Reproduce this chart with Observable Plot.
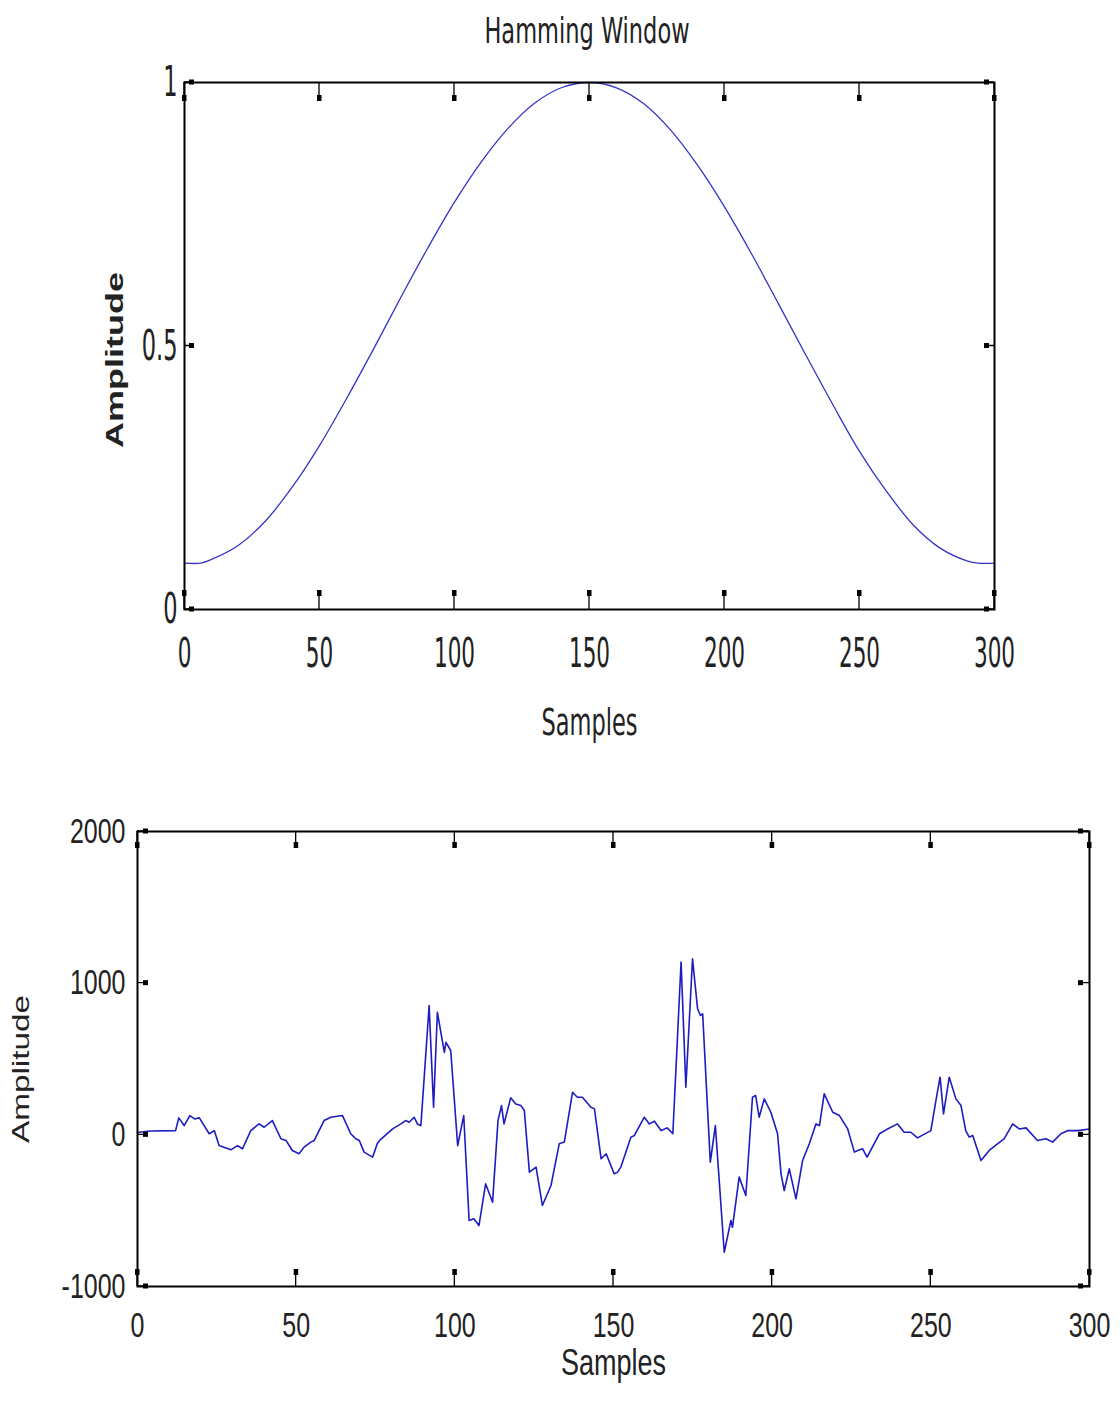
<!DOCTYPE html>
<html>
<head>
<meta charset="utf-8">
<script src="https://cdn.jsdelivr.net/npm/d3@7"></script>
<script src="https://cdn.jsdelivr.net/npm/@observablehq/plot@0.6"></script>
<style>
  html, body { margin: 0; padding: 0; background: #fff; }
  #page { width: 1120px; height: 1402px; position: relative; overflow: hidden; }
  #title { height: 60px; line-height: 62px; text-align: center; width: 1174px;
    font-family: "Liberation Sans Narrow", "DejaVu Sans Condensed", "Liberation Sans", sans-serif;
    font-stretch: condensed; font-size: 25px; color: #222; transform: scaleY(1.45); }
  svg { display: block; }
</style>
</head>
<body>
<div id="page">
  <div id="title">Hamming Window</div>
</div>
<script>
// ---- Data ----
const xTicks = [0, 50, 100, 150, 200, 250, 300];
const topYTicks = [0, 0.5, 1];
const bottomYTicks = [-1000, 0, 1000, 2000];

const hammingSamples = [0,6,10,20,30,40,50,60,70,80,90,100,110,120,130,140,150,160,170,180,190,200,210,220,230,240,250,260,270,280,290,294,300];
const hammingAmplitude = [0.088,0.088,0.095,0.122,0.168,0.233,0.311,0.4,0.494,0.591,0.685,0.773,0.85,0.914,0.962,0.991,1.0,0.99,0.96,0.91,0.843,0.764,0.675,0.58,0.484,0.39,0.3,0.224,0.16,0.116,0.092,0.088,0.088];

const signalSamples = [0,4,12,13,14.7,16.5,18,19.5,21,22.6,24.2,25.7,29.4,31.5,33.1,35.7,38.3,39.9,42.5,45.2,46.8,48.8,50.9,52.5,54.6,55.7,58.8,60.9,64.6,67.2,68.8,69.9,71.4,74.1,75.6,76.3,80.4,83,84.5,85.6,87.2,88.2,89.3,91.9,93.3,94.5,96.7,97.2,98.7,100.9,102.8,104.5,106,107.6,109.7,111.9,113.6,114.7,115.5,117.6,119.2,120.8,121.9,123.5,125.6,127.6,130.3,132.9,134.5,137.1,138.6,140.2,142.9,144,146.1,147.7,150.2,151.3,152.3,155.5,156.6,159.7,161.3,162.9,165,166.9,168.7,171.3,172.8,174.9,176.5,177.4,178.1,180.5,182.1,184.9,187,187.5,189.6,191.7,193.8,194.8,195.9,197.5,199.6,201.7,202.8,203.8,205.4,207.5,209.6,211.7,213.8,214.9,216.4,219.1,221.2,223.8,225.9,227,228.5,229.9,233.8,235.9,239.5,241.6,243.7,245.8,250,251.6,252.9,254,255.8,257.9,259.5,261,262.1,263.2,265.8,268.4,271,273.1,275.8,277.9,280,283.6,286.3,288.4,291,293.2,296.3,300];
const signalAmplitude = [15,25,28,112,61,127,105,112,61,7,28,-71,-99,-71,-92,28,72,50,94,-26,-37,-103,-125,-81,-48,-37,94,116,127,7,-26,-37,-114,-147,-55,-37,39,72,94,83,116,72,61,852,182,808,544,610,556,-71,127,-565,-554,-598,-323,-444,94,193,72,244,204,193,160,-246,-213,-466,-334,-59,-48,281,248,248,182,171,-158,-125,-257,-246,-213,-15,-4,116,72,90,28,46,7,1140,314,1160,831,787,798,-180,61,-774,-565,-609,-279,-400,248,259,116,237,149,7,-257,-367,-224,-422,-169,-59,72,61,270,149,127,39,-114,-103,-92,-147,7,33,72,17,17,-20,28,226,380,138,380,237,193,28,-15,-4,-169,-103,-59,-26,72,39,46,-37,-26,-48,7,28,28,39];

const hamming = hammingSamples.map((s, i) => ({s, a: hammingAmplitude[i]}));
const signal = signalSamples.map((s, i) => ({s, a: signalAmplitude[i]}));

const NARROW = '"Liberation Sans Narrow", "DejaVu Sans Condensed", "Liberation Sans", sans-serif';
const ARIAL = '"Liberation Sans", Arial, sans-serif';

// MATLAB-like inward ticks on all four sides, drawn with the plot's scales
function boxTicks(xt, yt, lenX, lenY) {
  return (index, scales, values, dims) => {
    const {x, y} = scales;
    const top = dims.marginTop, bottom = dims.height - dims.marginBottom;
    const left = dims.marginLeft, right = dims.width - dims.marginRight;
    const g = d3.create("svg:g");
    for (const v of xt) {
      const px = x(v);
      g.append("path").attr("d", `M${px},${bottom}v${-lenX}M${px},${top}v${lenX}`)
        .attr("stroke", "#000").attr("stroke-width", 1.3).attr("fill", "none");
      g.append("rect").attr("x", px - 2).attr("y", bottom - lenX).attr("width", 4.5).attr("height", 6).attr("fill", "#000");
      g.append("rect").attr("x", px - 2).attr("y", top + lenX - 6).attr("width", 4.5).attr("height", 6).attr("fill", "#000");
    }
    for (const v of yt) {
      const py = y(v);
      g.append("path").attr("d", `M${left},${py}h${lenY}M${right},${py}h${-lenY}`)
        .attr("stroke", "#000").attr("stroke-width", 1.3).attr("fill", "none");
      g.append("rect").attr("x", left + lenY - 5).attr("y", py - 2.5).attr("width", 5).attr("height", 5).attr("fill", "#000");
      g.append("rect").attr("x", right - lenY).attr("y", py - 2.5).attr("width", 5).attr("height", 5).attr("fill", "#000");
    }
    return g.node();
  };
}

// stretch text vertically (as in the reference picture); shift is along the text direction
function stretch(svg, selector, s, shift = 0) {
  svg.querySelectorAll(selector).forEach(t => {
    let tr = t.getAttribute("transform");
    if (!tr) {
      const x = +(t.getAttribute("x") || 0), y = +(t.getAttribute("y") || 0);
      t.removeAttribute("x"); t.removeAttribute("y");
      tr = `translate(${x},${y})`;
    }
    const rot = /rotate/.test(tr);
    t.setAttribute("transform", tr + (rot ? ` translate(${shift},0) scale(${s},1)` : ` scale(1,${s})`));
  });
}

const topPlot = Plot.plot({
  width: 1120, height: 700,
  marginTop: 22, marginBottom: 151, marginLeft: 184, marginRight: 126,
  style: {fontFamily: NARROW, fontSize: "24px", color: "#222", background: "white", overflow: "visible"},
  x: {domain: [0, 300]},
  y: {domain: [0, 1]},
  marks: [
    Plot.axisX(xTicks, {tickSize: 0, tickPadding: 29, tickFormat: d => String(d), fontSize: 24,
      label: "Samples", labelAnchor: "center", labelOffset: 125, labelArrow: false}),
    Plot.axisY(topYTicks, {tickSize: 0, tickPadding: 7, tickFormat: d => String(d), fontSize: 25,
      label: "Amplitude", labelAnchor: "center", labelOffset: 79, labelArrow: false}),
    Plot.line(hamming, {x: "s", y: "a", stroke: "#3434c8", strokeWidth: 1.3, curve: "catmull-rom"}),
    Plot.frame({stroke: "#000", strokeWidth: 2}),
    boxTicks(xTicks, topYTicks, 19, 10)
  ]
});

const bottomPlot = Plot.plot({
  width: 1120, height: 642,
  marginTop: 71, marginBottom: 116, marginLeft: 137, marginRight: 31,
  style: {fontFamily: ARIAL, fontSize: "25px", color: "#222", background: "white", overflow: "visible"},
  x: {domain: [0, 300]},
  y: {domain: [-1000, 2000]},
  marks: [
    Plot.axisX(xTicks, {tickSize: 0, tickPadding: 26, tickFormat: d => String(d), fontSize: 25,
      label: "Samples", labelAnchor: "center", labelOffset: 88, labelArrow: false}),
    Plot.axisY(bottomYTicks, {tickSize: 0, tickPadding: 12, tickFormat: d => String(d), fontSize: 25,
      label: "Amplitude", labelAnchor: "center", labelOffset: 125, labelArrow: false}),
    Plot.line(signal, {x: "s", y: "a", stroke: "#1c1cc0", strokeWidth: 1.6}),
    Plot.frame({stroke: "#000", strokeWidth: 2}),
    boxTicks(xTicks, bottomYTicks, 17, 11)
  ]
});

// label styling tweaks
function labelTexts(svg, which) {
  return svg.querySelectorAll(`g[aria-label="${which}-axis label"] text`);
}
labelTexts(topPlot, "y").forEach(t => { t.setAttribute("font-family", ARIAL); t.setAttribute("font-weight", "bold"); t.setAttribute("font-size", "24px"); });
labelTexts(topPlot, "x").forEach(t => { t.setAttribute("font-size", "25px"); });
labelTexts(bottomPlot, "y").forEach(t => { t.setAttribute("font-size", "23px"); });
labelTexts(bottomPlot, "x").forEach(t => { t.setAttribute("font-size", "27px"); });

stretch(topPlot, 'g[aria-label="x-axis tick label"] text, g[aria-label="y-axis tick label"] text', 1.7);
stretch(topPlot, 'g[aria-label="x-axis label"] text', 1.5);
stretch(topPlot, 'g[aria-label="y-axis label"] text', 1.5, -14);
stretch(bottomPlot, 'g[aria-label="x-axis tick label"] text, g[aria-label="y-axis tick label"] text', 1.4);
stretch(bottomPlot, 'g[aria-label="x-axis label"] text', 1.35);
stretch(bottomPlot, 'g[aria-label="y-axis label"] text', 1.45, -10);

const page = document.getElementById("page");
page.appendChild(topPlot);
page.appendChild(bottomPlot);
</script>
</body>
</html>
